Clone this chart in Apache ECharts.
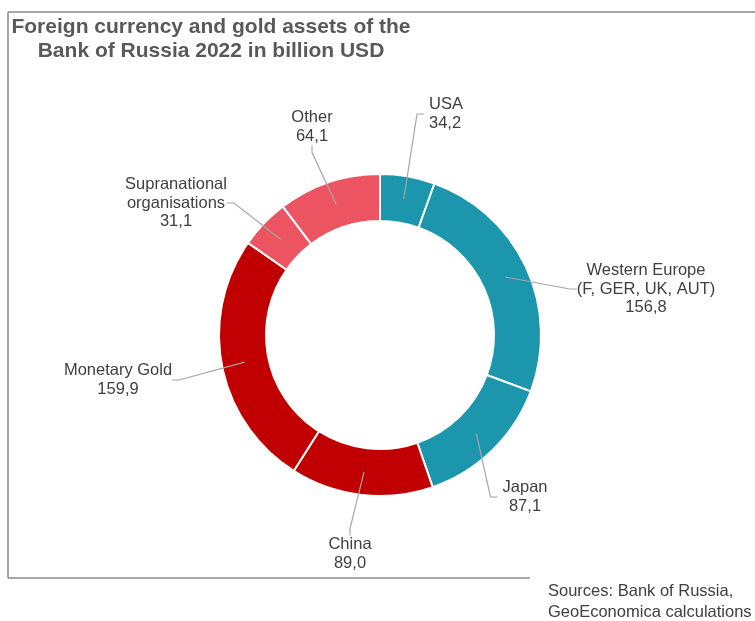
<!DOCTYPE html>
<html>
<head>
<meta charset="utf-8">
<script src="https://cdn.jsdelivr.net/npm/echarts@6/dist/echarts.min.js"></script>
<style>html,body{margin:0;padding:0;background:#fff}#c{width:755px;height:621px}</style>
</head>
<body>
<div id="c"></div>
<script>
const categories = ['USA', 'Western Europe\n(F, GER, UK, AUT)', 'Japan', 'China', 'Monetary Gold', 'Supranational\norganisations', 'Other'];
const values = [34.2, 156.8, 87.1, 89.0, 159.9, 31.1, 64.1];
const sliceColors = ['#1b96ad', '#1b96ad', '#1b96ad', '#c00000', '#c00000', '#eb5460', '#eb5460'];
const labelPos = [
  {x: 429, y: 114, align: 'left', side: 'left'},
  {x: 646, y: 289, align: 'center'},
  {x: 525, y: 497, align: 'center', side: 'left'},
  {x: 350, y: 554, align: 'center'},
  {x: 118, y: 380, align: 'center'},
  {x: 176, y: 203, align: 'center'},
  {x: 312, y: 127, align: 'center'}
];
const font = '"Liberation Sans", Arial, sans-serif';
const chart = echarts.init(document.getElementById('c'));
chart.setOption({
  backgroundColor: '#fff',
  animation: false,
  graphic: [
    {type: 'line', shape: {x1: 8, y1: 12, x2: 755, y2: 12}, style: {stroke: '#8a8a8a', lineWidth: 1.5}},
    {type: 'line', shape: {x1: 8, y1: 12, x2: 8, y2: 578}, style: {stroke: '#8a8a8a', lineWidth: 1.5}},
    {type: 'line', shape: {x1: 8, y1: 578, x2: 530, y2: 578}, style: {stroke: '#8a8a8a', lineWidth: 1.5}},
    {type: 'text', x: 211, y: 15, style: {text: 'Foreign currency and gold assets of the\nBank of Russia 2022 in billion USD', fill: '#595959', font: 'bold 21px ' + font, align: 'center', verticalAlign: 'top', lineHeight: 24}},
    {type: 'text', x: 548, y: 581, style: {text: 'Sources: Bank of Russia,\nGeoEconomica calculations', fill: '#404040', font: '16.5px ' + font, align: 'left', verticalAlign: 'top', lineHeight: 21}}
  ],
  series: [{
    type: 'pie',
    center: [380, 335],
    radius: [114, 161],
    startAngle: 90,
    clockwise: true,
    silent: true,
    data: categories.map((n, i) => ({name: n, value: values[i], itemStyle: {color: sliceColors[i]}})),
    itemStyle: {borderColor: '#fff', borderWidth: 2},
    label: {show: false},
    labelLine: {show: false}
  }, {
    type: 'pie',
    center: [380, 335],
    radius: [0, 138],
    startAngle: 90,
    clockwise: true,
    silent: true,
    z: 3,
    avoidLabelOverlap: false,
    data: categories.map((n, i) => ({name: n, value: values[i]})),
    itemStyle: {color: 'rgba(0,0,0,0)', borderWidth: 0},
    label: {
      show: true,
      position: 'outside',
      formatter: p => p.name + '\n' + p.value.toFixed(1).replace('.', ','),
      color: '#404040',
      fontSize: 16.5,
      lineHeight: 18.5,
      fontFamily: font,
      align: 'center'
    },
    labelLine: {show: true, length: 15, length2: 7, lineStyle: {color: '#a6a6a6', width: 1.2}},
    labelLayout: function (p) {
      const pos = labelPos[p.dataIndex];
      const out = {x: pos.x, y: pos.y, align: pos.align, verticalAlign: 'middle'};
      if (pos.side === 'left' && p.labelLinePoints) {
        const w = p.labelRect.width;
        const left = pos.align === 'left' ? pos.x : pos.x - w / 2;
        const a = p.labelLinePoints[0];
        const end = [left - 5, pos.y];
        const kink = [left - 12, pos.y];
        out.labelLinePoints = [[a[0], a[1]], kink, end];
      }
      return out;
    }
  }]
});
</script>
</body>
</html>
